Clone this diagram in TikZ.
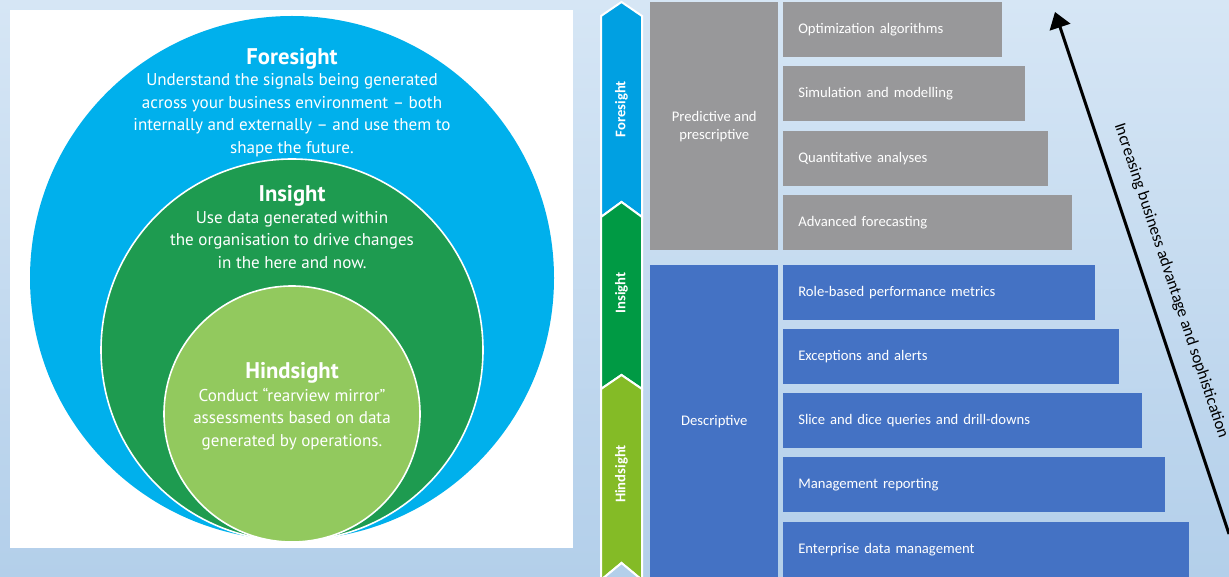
\documentclass[tikz,border=0pt]{standalone}
\usepackage{fontspec}
\setmainfont{Carlito}
\newfontfamily\circlefont{PT Sans}
\usetikzlibrary{arrows.meta,positioning}

\definecolor{bgtop}{RGB}{214,230,245}
\definecolor{bgbottom}{RGB}{179,207,234}
\definecolor{foreblue}{RGB}{0,176,236}
\definecolor{insgreen}{RGB}{30,155,80}
\definecolor{hindgreen}{RGB}{146,201,94}
\definecolor{chevblue}{RGB}{0,160,226}
\definecolor{chevgreen}{RGB}{0,154,68}
\definecolor{chevlime}{RGB}{132,187,38}
\definecolor{tiergray}{RGB}{152,152,154}
\definecolor{tierblue}{RGB}{68,114,196}

\newcommand{\px}{0.75pt}

\begin{document}
\begin{tikzpicture}[x=0.75pt,y=-0.75pt,
  ring/.style={circle,draw=white,line width=1.2pt,inner sep=0pt},
  ring head/.style={text=white,font=\circlefont\fontsize{17}{20}\selectfont\bfseries},
  ring text/.style={text=white,align=center,font=\circlefont\fontsize{12.8}{16.9}\selectfont},
  chevron/.style={draw=white,line width=1.5pt,line join=miter},
  chevron label/.style={text=white,rotate=90,font=\fontsize{11}{13}\selectfont\bfseries},
  tier/.style={rectangle,anchor=north west,minimum height=55*\px,inner xsep=15*\px,
    text width=#1*\px-30*\px,align=left,text=white,font=\fontsize{11}{13}\selectfont},
  group box/.style={rectangle,anchor=north west,minimum width=128*\px,text=white,
    align=center,font=\fontsize{11}{13.5}\selectfont}]

  \useasboundingbox (0,0) rectangle (1229,577);
  \clip (0,0) rectangle (1229,577);
  \shade[top color=bgtop,bottom color=bgbottom] (0,0) rectangle (1229,577);

  % circles
  \fill[white] (10,10) rectangle (573,548);
  \node[ring,draw=none,fill=foreblue,minimum size=524*\px] (fore) at (292,278) {};
  \node[ring,fill=insgreen,minimum size=382*\px] (ins) at (292,350) {};
  \node[ring,fill=hindgreen,minimum size=256*\px] (hind) at (292,414) {};

  \node[ring head] (fore head) at (292,59) {Foresight};
  \node[ring text] (fore text) at (292,115) {Understand the signals being generated\\
    across your business environment – both\\
    internally and externally – and use them to\\ shape the future.};
  \node[ring head] (ins head) at (292,196) {Insight};
  \node[ring text] (ins text) at (292,240) {Use data generated within\\
    the organisation to drive changes\\ in the here and now.};
  \node[ring head] (hind head) at (292,373) {Hindsight};
  \node[ring text] (hind text) at (292,419) {Conduct “rearview mirror”\\
    assessments based on data\\ generated by operations.};

  % chevrons
  \filldraw[chevron,fill=chevblue] (601,16) -- (621.5,2) -- (642,16) -- (642,217)
    -- (621.5,202) -- (601,217) -- cycle;
  \filldraw[chevron,fill=chevgreen] (601,217) -- (621.5,202) -- (642,217) -- (642,389)
    -- (621.5,375) -- (601,389) -- cycle;
  \filldraw[chevron,fill=chevlime] (601,389) -- (621.5,375) -- (642,389) -- (642,580)
    -- (621.5,563) -- (601,580) -- cycle;
  \filldraw[chevron,fill=bgbottom] (601,580) -- (621.5,563) -- (642,580);

  \node[chevron label] (fore chev) at (621.5,109) {Foresight};
  \node[chevron label] (ins chev) at (621.5,293) {Insight};
  \node[chevron label] (hind chev) at (621.5,474) {Hindsight};

  % tiers
  \node[group box,fill=tiergray,minimum height=248*\px] (predictive) at (650,2)
    {Predictive and\\ prescriptive};
  \node[group box,fill=tierblue,minimum height=312*\px] (descriptive) at (650,265)
    {Descriptive};

  \node[tier=219,fill=tiergray] (optim) at (783,2) {Optimization algorithms};
  \node[tier=242,fill=tiergray] (simul) at (783,66) {Simulation and modelling};
  \node[tier=265,fill=tiergray] (quant) at (783,131) {Quantitative analyses};
  \node[tier=289,fill=tiergray] (forecast) at (783,195) {Advanced forecasting};
  \node[tier=312,fill=tierblue] (metrics) at (783,265) {Role-based performance metrics};
  \node[tier=336,fill=tierblue] (alerts) at (783,329) {Exceptions and alerts};
  \node[tier=359,fill=tierblue] (slice) at (783,393) {Slice and dice queries and drill-downs};
  \node[tier=382,fill=tierblue] (reporting) at (783,457) {Management reporting};
  \node[tier=406,fill=tierblue] (enterprise) at (783,522) {Enterprise data management};

  % advantage arrow
  \coordinate (adv tail) at (1229,534);
  \coordinate (adv tip) at (1055,12);
  \draw[line width=2.25pt,-{Triangle[length=12pt,width=16pt]}] (adv tail) -- (adv tip)
    node[pos=0.47,sloped,above=9pt,font=\fontsize{12.5}{14}\selectfont] (adv label)
    {Increasing business advantage and sophistication};

\end{tikzpicture}
\end{document}
